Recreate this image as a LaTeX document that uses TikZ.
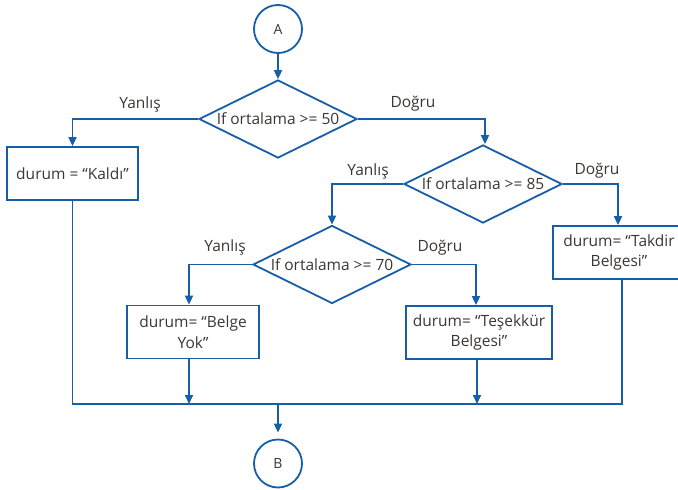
\documentclass[tikz,border=0pt]{standalone}
\usepackage{fontspec}
\setmainfont{Open Sans}
\usetikzlibrary{shapes.geometric,arrows.meta,calc}
\definecolor{fcblue}{RGB}{22,94,168}
\definecolor{fctext}{RGB}{58,54,52}
\tikzset{
  line/.style={draw=fcblue,line width=1.8pt},
  arr/.style={line,-{Triangle[length=9pt,width=8pt]}},
  conn/.style={circle,draw=fcblue,line width=1.8pt,minimum size=48pt,inner sep=0pt,text=fctext,font=\fontsize{14}{16}\selectfont},
  dec/.style={diamond,draw=fcblue,line width=1.8pt,aspect=2,inner sep=0pt,minimum width=158pt,minimum height=78pt,text=fctext,font=\fontsize{15.5}{18}\selectfont},
  proc/.style={rectangle,draw=fcblue,line width=1.8pt,minimum height=53pt,align=center,text=fctext,font=\fontsize{15.5}{20.5}\selectfont},
  lbl/.style={text=fctext,font=\fontsize{15.5}{18}\selectfont,inner sep=0pt}
}
\begin{document}
\begin{tikzpicture}[x=1pt,y=-1pt]
\useasboundingbox (0,0) rectangle (678,490);
\node[conn] (A) at (278,29) {A};
\node[dec] (d1) at (278,119) {If ortalama >= 50};
\node[dec] (d2) at (483,184) {If ortalama >= 85};
\node[dec] (d3) at (332,264.5) {If ortalama >= 70};
\node[proc,minimum width=131pt] (kaldi) at (72.5,173.5) {durum = “Kaldı”};
\node[proc,minimum width=132pt] (yok) at (193,332) {durum= “Belge\\Yok”};
\node[proc,minimum width=146pt] (tes) at (479,332.5) {durum= “Teşekkür\\Belgesi”};
\node[proc,minimum width=132pt] (tak) at (619,252.5) {durum= “Takdir\\Belgesi”};
\node[conn] (B) at (278,463.5) {B};
\coordinate (j) at (278,404);
% labels
\node[lbl] (l1) at (140,104) {Yanlış};
\node[lbl] (l2) at (413,104) {Doğru};
\node[lbl] (l3) at (368,171) {Yanlış};
\node[lbl] (l4) at (597,171) {Doğru};
\node[lbl] (l5) at (225,247.5) {Yanlış};
\node[lbl] (l6) at (440,247.5) {Doğru};
% connectors
\draw[arr] (A) -- (d1);
\draw[arr] (d1.west) -| (kaldi.north);
\draw[arr] (d1.east) -| ([xshift=2pt]d2.north);
\draw[arr] (d2.west) -| (d3.north);
\draw[arr] (d2.east) -| ([xshift=-1pt]tak.north);
\draw[arr] (d3.west) -| ([xshift=-4pt]yok.north);
\draw[arr] (d3.east) -| ([xshift=-3pt]tes.north);
\draw[line] (kaldi.south) |- ([xshift=3pt]tak.south |- j) -- ([xshift=3pt]tak.south);
\draw[arr] ([xshift=-4pt]yok.south) -- ([xshift=-4pt]yok.south |- j);
\draw[arr] ([xshift=-2pt]tes.south) -- ([xshift=-2pt]tes.south |- j);
\draw[arr] (j) -- ([yshift=6pt]B.north);
\end{tikzpicture}
\end{document}
